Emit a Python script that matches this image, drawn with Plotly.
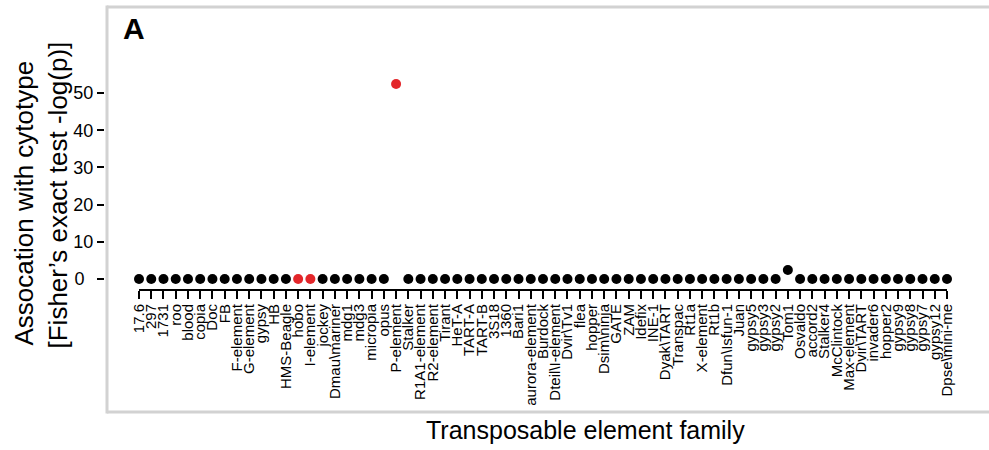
import plotly.graph_objects as go

families = ["17.6", "297", "1731", "roo", "blood", "copia", "Doc", "FB", "F-element",
            "G-element", "gypsy", "HB", "HMS-Beagle", "hobo", "I-element", "jockey",
            "Dmau\\mariner", "mdg1", "mdg3", "micropia", "opus", "P-element", "Stalker",
            "R1A1-element", "R2-element", "Tirant", "HeT-A", "TART-A", "TART-B", "3S18",
            "1360", "Bari1", "aurora-element", "Burdock", "Dteil\\I-element", "Dvir\\Tv1",
            "flea", "hopper", "Dsim\\ninja", "GATE", "ZAM", "Idefix", "INE-1", "Dyak\\TART",
            "Transpac", "Rt1a", "X-element", "Rt1b", "Dfun\\Isfun-1", "Juan", "gypsy5",
            "gypsy3", "gypsy2", "Tom1", "Osvaldo", "accord2", "Stalker4", "McClintock",
            "Max-element", "Dvir\\TART", "invader6", "hopper2", "gypsy9", "gypsy8",
            "gypsy7", "gypsy12", "Dpse\\mini-me"]

elevated = {"P-element": 52.4, "Tom1": 2.4}
values = [elevated.get(f, 0.0) for f in families]
highlighted = ["hobo", "I-element", "P-element"]

y_tickvals = [0, 10, 20, 30, 40, 50]
y_ticktext = ["0\u2002", "10", "20", "30", "40", "50"]

RED = "#e3262a"
colors = [RED if f in highlighted else "#000000" for f in families]

W_FIG, H_FIG = 989, 450
ML, MR, MT, MB = 100, 20, 6, 161
PW = W_FIG - ML - MR
PH = H_FIG - MT - MB
BOTTOM = MT + PH


def px(x):
    return (x - ML) / PW


def py(y):
    return (BOTTOM - y) / PH


FONT = "Liberation Sans, Arial, Helvetica, sans-serif"
PX_PER_UNIT = 3.72
y0 = -(BOTTOM - 279) / PX_PER_UNIT
y1 = y0 + PH / PX_PER_UNIT

fig = go.Figure()
fig.add_trace(go.Scatter(
    x=families, y=values, mode="markers",
    marker=dict(size=10, color=colors, line=dict(width=0)),
    cliponaxis=False, showlegend=False, hoverinfo="x+y",
))

FRAME = dict(color="#d2d2d2", width=3)
frame_shapes = [
    dict(type="line", xref="paper", yref="paper", x0=px(107), x1=px(1000),
         y0=py(7), y1=py(7), line=FRAME, layer="below"),
    dict(type="line", xref="paper", yref="paper", x0=px(107), x1=px(1000),
         y0=py(412), y1=py(412), line=FRAME, layer="below"),
    dict(type="line", xref="paper", yref="paper", x0=px(107), x1=px(107),
         y0=py(5.5), y1=py(413.5), line=FRAME, layer="below"),
]

fig.update_layout(
    width=W_FIG, height=H_FIG,
    margin=dict(l=ML, r=MR, t=MT, b=MB),
    paper_bgcolor="white", plot_bgcolor="white",
    font=dict(family=FONT, color="black"),
    xaxis=dict(
        type="category", tickmode="linear", tick0=0, dtick=1,
        range=[0, len(families) - 1],
        domain=[px(139), px(947)],
        showline=True, linecolor="black", linewidth=2,
        ticks="outside", ticklen=8, tickwidth=1.5, tickcolor="black",
        tickangle=-90, tickfont=dict(size=15, family=FONT, color="black"),
        ticklabelstandoff=-1,
        showgrid=False, zeroline=False, fixedrange=True,
    ),
    yaxis=dict(
        range=[y0, y1], anchor="free", position=px(104),
        tickmode="array", tickvals=y_tickvals, ticktext=y_ticktext,
        ticks="outside", ticklen=7, tickwidth=1.5, tickcolor="black",
        tickfont=dict(size=18, family=FONT, color="black"),
        ticklabelstandoff=0,
        showline=False, showgrid=False, zeroline=False, fixedrange=True,
    ),
    shapes=frame_shapes,
    annotations=[
        dict(text="<b>A</b>", xref="paper", yref="paper", x=px(121), y=py(10),
             xanchor="left", yanchor="top", showarrow=False,
             font=dict(size=30, family=FONT, color="black")),
        dict(text="Transposable element family", xref="paper", yref="paper",
             x=px(585), y=py(430), xanchor="center", yanchor="middle", showarrow=False,
             font=dict(size=25, family=FONT, color="black")),
        dict(text="Assocation with cytotype", xref="paper", yref="paper",
             x=px(23), y=py(348), xanchor="center", yanchor="bottom", textangle=-90,
             showarrow=False, font=dict(size=26, family=FONT, color="black")),
        dict(text="[Fisher\u2019s exact test -log(p)]", xref="paper", yref="paper",
             x=px(57), y=py(351), xanchor="center", yanchor="bottom", textangle=-90,
             showarrow=False, font=dict(size=26, family=FONT, color="black")),
    ],
)

fig.write_html("out.html", config={"displayModeBar": False},
               post_script="document.body.style.margin='0';")
